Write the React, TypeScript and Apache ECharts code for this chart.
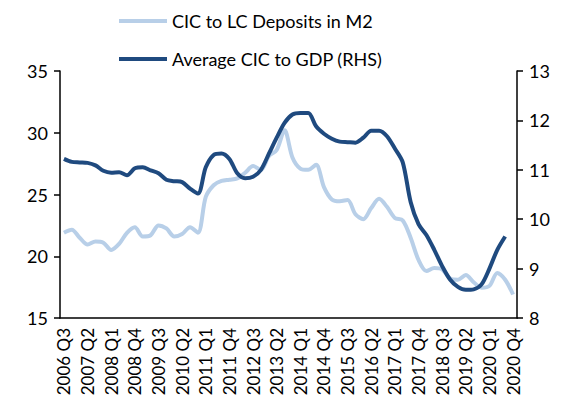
import React, { useEffect, useRef } from "react";
import * as echarts from "echarts";

const years = [2006, 2007, 2008, 2009, 2010, 2011, 2012, 2013, 2014, 2015, 2016, 2017, 2018, 2019, 2020];
const categories: string[] = [];
years.forEach((y) => {
  ["Q1", "Q2", "Q3", "Q4"].forEach((q) => {
    if (y === 2006 && (q === "Q1" || q === "Q2")) return;
    categories.push(`${y} ${q}`);
  });
});

const cicToDeposits = [
  21.9, 22.15, 21.5, 20.95, 21.2, 21.1, 20.5, 21.0, 21.9, 22.35,
  21.6, 21.7, 22.5, 22.25, 21.6, 21.8, 22.35, 21.9, 24.8, 25.75,
  26.1, 26.2, 26.3, 26.76, 27.3, 27.0, 28.1, 28.6, 30.2, 28.0,
  27.1, 27.0, 27.4, 25.6, 24.6, 24.45, 24.55, 23.4, 23.0, 23.9,
  24.65, 24.0, 23.1, 22.9, 21.5, 19.7, 18.8, 19.05, 18.95, 18.2,
  18.1, 18.48, 17.9, 17.45, 17.6, 18.65, 18.1, 16.9,
];

const cicToGdp = [
  11.22, 11.16, 11.15, 11.14, 11.09, 10.98, 10.94, 10.95, 10.89, 11.03,
  11.05, 10.99, 10.93, 10.8, 10.77, 10.75, 10.62, 10.52, 11.05, 11.3,
  11.33, 11.22, 10.93, 10.83, 10.86, 11.0, 11.32, 11.65, 11.95, 12.12,
  12.15, 12.15, 11.88, 11.73, 11.63, 11.57, 11.56, 11.55, 11.65, 11.79,
  11.79, 11.68, 11.43, 11.15, 10.35, 9.9, 9.68, 9.38, 9.05, 8.78,
  8.63, 8.57, 8.58, 8.68, 9.0, 9.38, 9.65, null,
];

const leftTicks = { min: 15, max: 35, interval: 5 };
const rightTicks = { min: 8, max: 13, interval: 1 };

const FONT = "Lato";

export default function App() {
  const ref = useRef<HTMLDivElement>(null);
  useEffect(() => {
    if (!ref.current) return;
    const chart = echarts.init(ref.current, undefined, { renderer: "svg" });
    chart.setOption({
      animation: false,
      textStyle: { fontFamily: FONT },
      legend: {
        orient: "vertical",
        left: 114,
        top: 7,
        icon: "rect",
        itemWidth: 48,
        itemHeight: 4,
        itemGap: 20,
        textStyle: { fontFamily: FONT, fontSize: 18, color: "#000" },
        data: ["CIC to LC Deposits in M2", "Average CIC to GDP (RHS)"],
      },
      grid: { left: 60, right: 44, top: 71, bottom: 87 },
      xAxis: {
        type: "category",
        data: categories,
        boundaryGap: true,
        axisLine: { lineStyle: { color: "#000", width: 1.5 } },
        axisTick: { show: false },
        axisLabel: {
          interval: 2,
          rotate: 90,
          margin: 10,
          fontFamily: FONT,
          fontSize: 17,
          color: "#000",
        },
      },
      yAxis: [
        {
          type: "value",
          min: leftTicks.min,
          max: leftTicks.max,
          interval: leftTicks.interval,
          splitLine: { show: false },
          axisLine: { show: true, lineStyle: { color: "#000", width: 1.5 } },
          axisTick: { show: true, inside: false, length: 6, lineStyle: { color: "#000", width: 1.5 } },
          axisLabel: { fontFamily: FONT, fontSize: 18, color: "#000", margin: 12 },
        },
        {
          type: "value",
          min: rightTicks.min,
          max: rightTicks.max,
          interval: rightTicks.interval,
          position: "right",
          splitLine: { show: false },
          axisLine: { show: true, lineStyle: { color: "#000", width: 1.5 } },
          axisTick: { show: true, inside: false, length: 6, lineStyle: { color: "#000", width: 1.5 } },
          axisLabel: { fontFamily: FONT, fontSize: 18, color: "#000", margin: 12 },
        },
      ],
      series: [
        {
          name: "CIC to LC Deposits in M2",
          type: "line",
          yAxisIndex: 0,
          data: cicToDeposits,
          smooth: 0.3,
          showSymbol: false,
          symbol: "none",
          color: "#B8CFE8",
          lineStyle: { color: "#B8CFE8", width: 4 },
        },
        {
          name: "Average CIC to GDP (RHS)",
          type: "line",
          yAxisIndex: 1,
          data: cicToGdp,
          smooth: 0.3,
          showSymbol: false,
          symbol: "none",
          color: "#1F4A7F",
          lineStyle: { color: "#1F4A7F", width: 4 },
        },
      ],
    });
    return () => chart.dispose();
  }, []);
  return (
    <div
      ref={ref}
      style={{ position: "fixed", left: 0, top: 0, width: 561, height: 405, background: "#fff" }}
    />
  );
}
